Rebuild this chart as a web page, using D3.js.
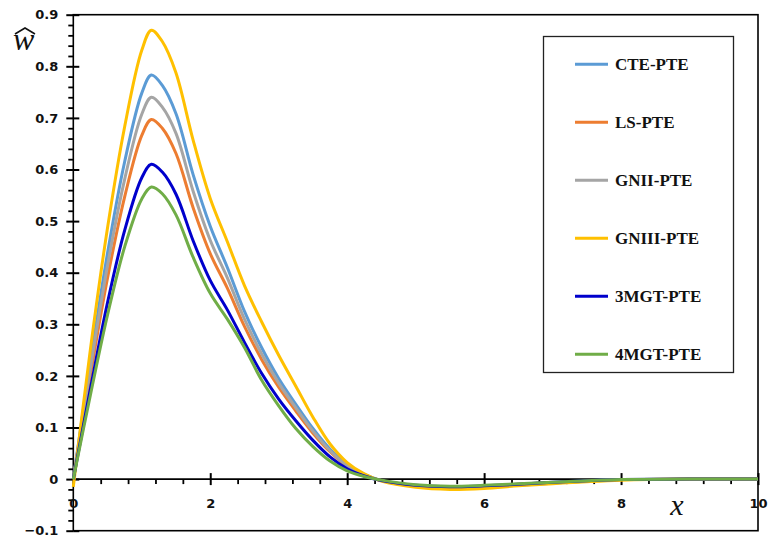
<!DOCTYPE html>
<html>
<head>
<meta charset="utf-8">
<script src="https://cdn.jsdelivr.net/npm/d3@7"></script>
<style>
  body { margin: 0; background: #fff; }
  svg { display: block; }
</style>
</head>
<body>
<div id="chart"></div>
<script>
// x positions shared by all curves
const xs = [0, 0.25, 0.5, 0.75, 1.0, 1.14, 1.3, 1.5, 1.75, 2.0, 2.25, 2.5, 2.75, 3.0, 3.25, 3.5, 3.75, 4.0, 4.25, 4.5, 5.0, 5.5, 6.0, 6.5, 7.0, 7.5, 8.0, 9.0, 10.0];

// values
const cte   = [0, 0.227, 0.438, 0.615, 0.748, 0.783, 0.763, 0.708, 0.59, 0.49, 0.41, 0.325, 0.255, 0.195, 0.145, 0.098, 0.058, 0.028, 0.009, -0.003, -0.014, -0.018, -0.016, -0.012, -0.008, -0.004, -0.001, 0, 0];
const ls    = [0, 0.202, 0.39, 0.547, 0.666, 0.697, 0.68, 0.631, 0.526, 0.437, 0.37, 0.296, 0.232, 0.178, 0.132, 0.089, 0.053, 0.025, 0.008, -0.003, -0.013, -0.016, -0.014, -0.01, -0.007, -0.004, -0.001, 0, 0];
const gn2   = [0, 0.215, 0.414, 0.581, 0.707, 0.74, 0.721, 0.67, 0.558, 0.463, 0.39, 0.31, 0.243, 0.186, 0.138, 0.093, 0.055, 0.026, 0.008, -0.003, -0.013, -0.017, -0.015, -0.011, -0.007, -0.004, -0.001, 0, 0];
const gn3   = [-0.015, 0.252, 0.487, 0.683, 0.831, 0.87, 0.848, 0.787, 0.657, 0.544, 0.46, 0.375, 0.305, 0.24, 0.18, 0.12, 0.068, 0.032, 0.01, -0.004, -0.016, -0.02, -0.018, -0.013, -0.009, -0.005, -0.002, 0, 0];
const mgt3  = [0, 0.175, 0.342, 0.482, 0.584, 0.61, 0.595, 0.552, 0.462, 0.385, 0.328, 0.265, 0.205, 0.155, 0.113, 0.075, 0.043, 0.02, 0.006, -0.003, -0.012, -0.015, -0.013, -0.01, -0.006, -0.003, -0.001, 0, 0];
const mgt4  = [0, 0.163, 0.318, 0.45, 0.543, 0.566, 0.553, 0.512, 0.43, 0.36, 0.31, 0.255, 0.192, 0.142, 0.098, 0.063, 0.035, 0.016, 0.005, -0.002, -0.011, -0.014, -0.012, -0.009, -0.006, -0.003, -0.001, 0, 0];

const names  = ["CTE-PTE", "LS-PTE", "GNII-PTE", "GNIII-PTE", "3MGT-PTE", "4MGT-PTE"];
const colors = ["#5B9BD5", "#ED7D31", "#A5A5A5", "#FFC000", "#0000CC", "#70AD47"];
const seriesValues = [cte, ls, gn2, gn3, mgt3, mgt4];

const xTicks = [0, 2, 4, 6, 8, 10];
const yTicks = [-0.1, 0, 0.1, 0.2, 0.3, 0.4, 0.5, 0.6, 0.7, 0.8, 0.9];
const xMinor = [0.4, 0.8, 1.2, 1.6, 2.4, 2.8, 3.2, 3.6, 4.4, 4.8, 5.2, 5.6, 6.4, 6.8, 7.2, 7.6, 8.4, 8.8, 9.2, 9.6];
const yMinor = [-0.08, -0.06, -0.04, -0.02, 0.02, 0.04, 0.06, 0.08, 0.12, 0.14, 0.16, 0.18, 0.22, 0.24, 0.26, 0.28,
  0.32, 0.34, 0.36, 0.38, 0.42, 0.44, 0.46, 0.48, 0.52, 0.54, 0.56, 0.58, 0.62, 0.64, 0.66, 0.68,
  0.72, 0.74, 0.76, 0.78, 0.82, 0.84, 0.86, 0.88];

const width = 769, height = 541;

const svg = d3.select("#chart").append("svg")
  .attr("width", width)
  .attr("height", height);

const x = d3.scaleLinear().domain([0, 10]).range([73.3, 758]);
const y = d3.scaleLinear().domain([-0.1, 0.9]).range([530.7, 14.7]);

function styleAxis(g, w) {
  g.select(".domain").remove();
  g.selectAll(".tick line").attr("stroke", "#000").attr("stroke-width", w);
  g.selectAll("text")
    .attr("font-family", "DejaVu Sans").attr("font-weight", "bold")
    .attr("font-size", 13).attr("fill", "#111");
}

// frame
svg.append("rect")
  .attr("x", x(0)).attr("y", y(0.9))
  .attr("width", x(10) - x(0)).attr("height", y(-0.1) - y(0.9))
  .attr("fill", "none").attr("stroke", "#000").attr("stroke-width", 1.6);

// y axis: major ticks cross the line, minor ticks outside
const yAt = "translate(" + x(0) + ",0)";
svg.append("g").attr("transform", yAt)
  .call(d3.axisLeft(y).tickValues(yMinor).tickSize(5).tickFormat(""))
  .call(g => styleAxis(g, 1.8));
svg.append("g").attr("transform", yAt)
  .call(d3.axisRight(y).tickValues(yTicks).tickSize(6).tickFormat(""))
  .call(g => styleAxis(g, 2));
svg.append("g").attr("transform", yAt)
  .call(d3.axisLeft(y).tickValues(yTicks).tickSize(7).tickPadding(8)
    .tickFormat(d => Math.abs(d) < 1e-9 ? "0" : d3.format(".1f")(d)))
  .call(g => styleAxis(g, 2));

// x axis sits on y = 0
const xAt = "translate(0," + y(0) + ")";
svg.append("line")
  .attr("x1", x(0)).attr("x2", x(10))
  .attr("y1", y(0)).attr("y2", y(0))
  .attr("stroke", "#000").attr("stroke-width", 1.6);
svg.append("g").attr("transform", xAt)
  .call(d3.axisBottom(x).tickValues(xMinor).tickSize(5).tickFormat(""))
  .call(g => styleAxis(g, 1.8));
svg.append("g").attr("transform", xAt)
  .call(d3.axisTop(x).tickValues(xTicks).tickSize(6).tickFormat(""))
  .call(g => styleAxis(g, 2));
svg.append("g").attr("transform", xAt)
  .call(d3.axisBottom(x).tickValues(xTicks).tickSize(6).tickPadding(14))
  .call(g => styleAxis(g, 2));

// curves
const line = d3.line()
  .x(d => x(d[0]))
  .y(d => y(d[1]))
  .curve(d3.curveCatmullRom.alpha(0.5));

seriesValues.forEach(function(vals, i) {
  svg.append("path")
    .datum(xs.map((v, j) => [v, vals[j]]))
    .attr("fill", "none")
    .attr("stroke", colors[i])
    .attr("stroke-width", 3)
    .attr("stroke-linejoin", "round")
    .attr("d", line);
});

// axis titles
const wLabel = svg.append("g").attr("transform", "translate(13,50)");
wLabel.append("text")
  .attr("x", 0).attr("y", 0)
  .attr("font-family", "Liberation Serif").attr("font-style", "italic")
  .attr("font-size", 32).attr("fill", "#111")
  .text("w");
wLabel.append("path")
  .attr("d", "M2,-16 L12,-22 L22,-16")
  .attr("fill", "none").attr("stroke", "#111").attr("stroke-width", 1.6);

svg.append("text")
  .attr("x", 677).attr("y", 515)
  .attr("text-anchor", "middle")
  .attr("font-family", "Liberation Serif").attr("font-style", "italic")
  .attr("font-size", 30).attr("fill", "#111")
  .text("x");

// legend
const legend = svg.append("g");
legend.append("rect")
  .attr("x", 543.5).attr("y", 36.5)
  .attr("width", 190).attr("height", 336)
  .attr("fill", "#fff").attr("stroke", "#222").attr("stroke-width", 1.3);

names.forEach(function(name, i) {
  const ly = 64.3 + i * 58;
  legend.append("line")
    .attr("x1", 575).attr("x2", 608)
    .attr("y1", ly).attr("y2", ly)
    .attr("stroke", colors[i]).attr("stroke-width", 3);
  legend.append("text")
    .attr("x", 615).attr("y", ly)
    .attr("dy", "0.35em")
    .attr("font-family", "Liberation Serif").attr("font-weight", "bold")
    .attr("font-size", 17).attr("fill", "#111")
    .text(name);
});
</script>
</body>
</html>
